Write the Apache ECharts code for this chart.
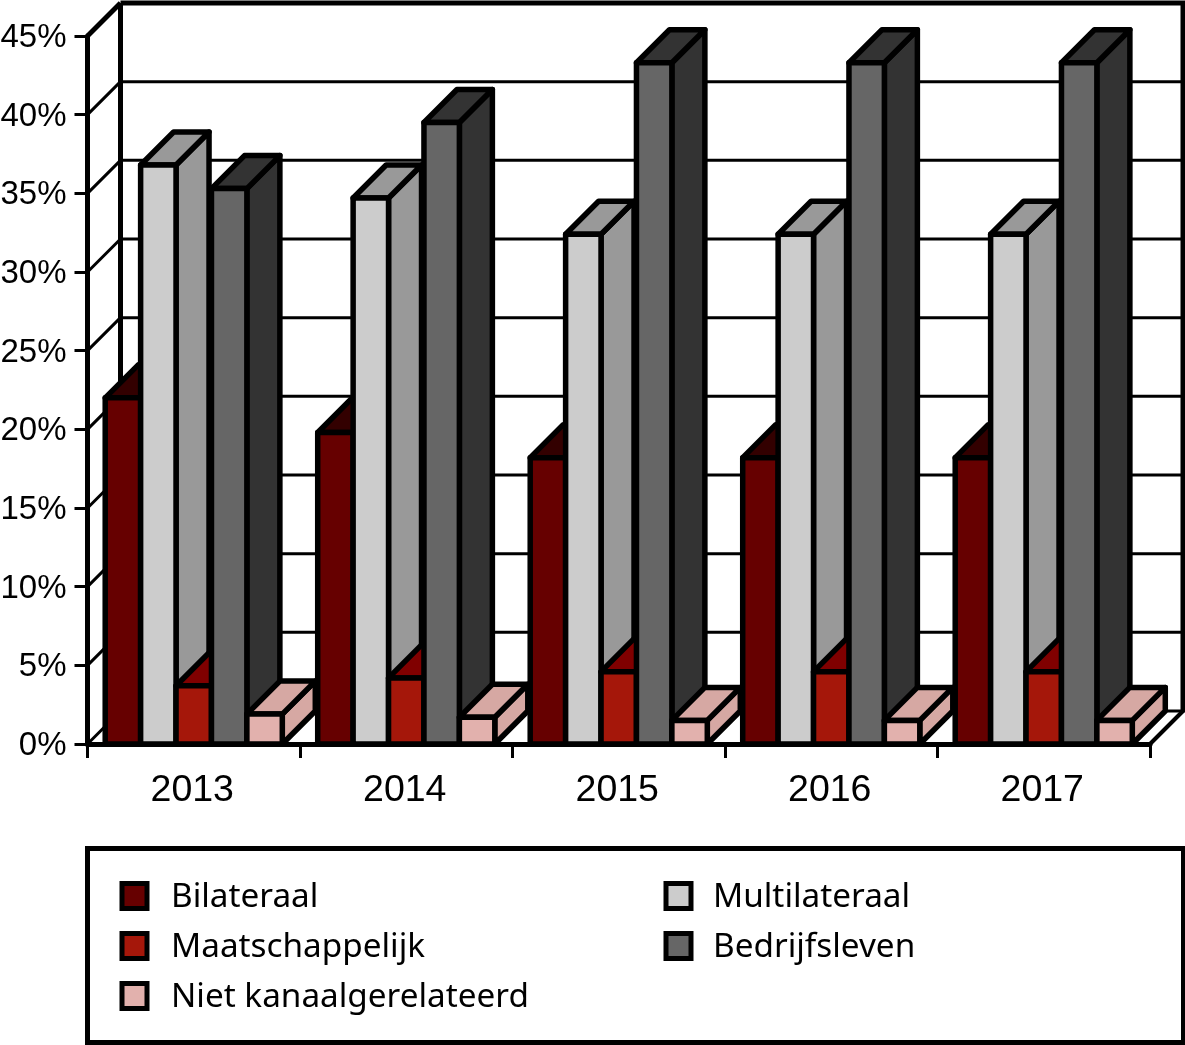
<!DOCTYPE html>
<html><head><meta charset="utf-8">
<style>html,body{margin:0;padding:0;background:#fff}#c{width:1185px;height:1045px}</style>
<script src="https://cdn.jsdelivr.net/npm/echarts@6/dist/echarts.min.js"></script>
</head><body><div id="c"></div>
<script>
const categories = ['2013','2014','2015','2016','2017'];
const yTicks = [0,5,10,15,20,25,30,35,40,45];
const bilateraal = [22.0,19.8,18.2,18.2,18.2];
const multilateraal = [36.8,34.7,32.4,32.4,32.4];
const maatschappelijk = [3.7,4.2,4.6,4.6,4.6];
const bedrijfsleven = [35.3,39.5,43.3,43.3,43.3];
const nietKanaal = [1.9,1.7,1.5,1.5,1.5];

const names = ['Bilateraal','Multilateraal','Maatschappelijk','Bedrijfsleven','Niet kanaalgerelateerd'];
const values = [bilateraal,multilateraal,maatschappelijk,bedrijfsleven,nietKanaal];
const frontColors = ['#660000','#cccccc','#a5170a','#666666','#e2b1ad'];
const sideColors = ['#330000','#999999','#800000','#333333','#d6a8a3'];

const DEPTH = 33, BAR_LW = 5.5, FONT = '"Liberation Sans", Arial, sans-serif', LEGEND_FONT = '"Noto Sans", sans-serif';
const chart = echarts.init(document.getElementById('c'), null, {renderer:'canvas'});

function poly(points, fill){
  return {type:'polygon', shape:{points}, style:{fill, stroke:'#000', lineWidth:BAR_LW, lineJoin:'round'}};
}
function barRender(si){
  return function(params, api){
    const i = api.value(0), v = api.value(1);
    const band = api.size([1,0])[0], w = band/6;
    const c = api.coord([i,0]), top = api.coord([i,v]);
    const x0 = c[0]-band/2 + w/2 + si*w, x1 = x0+w, y0 = c[1], y1 = top[1];
    return {type:'group', children:[
      poly([[x1,y0],[x1+DEPTH,y0-DEPTH],[x1+DEPTH,y1-DEPTH],[x1,y1]], sideColors[si]),
      poly([[x0,y1],[x0+DEPTH,y1-DEPTH],[x1+DEPTH,y1-DEPTH],[x1,y1]], sideColors[si]),
      poly([[x0,y0],[x1,y0],[x1,y1],[x0,y1]], frontColors[si])
    ]};
  };
}
function wallRender(params, api){
  const v = api.value(0);
  const a = api.coord([0,v]), band = api.size([1,0])[0];
  const x0 = a[0]-band/2, y = a[1], xEnd = x0+band*categories.length;
  const heavy = v===45;
  const lw = heavy?5:3;
  const children = [
    {type:'line', shape:{x1:x0,y1:y,x2:x0+DEPTH,y2:y-DEPTH}, style:{stroke:'#000',lineWidth:lw}},
    {type:'line', shape:{x1:x0+DEPTH,y1:y-DEPTH,x2:xEnd+DEPTH+2,y2:y-DEPTH}, style:{stroke:'#000',lineWidth:lw}}
  ];
  if(v===0){
    const yTop = api.coord([0,45])[1]-DEPTH;
    children.push({type:'line', shape:{x1:x0+DEPTH,y1:y-DEPTH,x2:x0+DEPTH,y2:yTop}, style:{stroke:'#000',lineWidth:5}});
    children.push({type:'line', shape:{x1:xEnd+DEPTH,y1:y-DEPTH,x2:xEnd+DEPTH,y2:yTop}, style:{stroke:'#000',lineWidth:5}});
    children.push({type:'line', shape:{x1:xEnd,y1:y,x2:xEnd+DEPTH,y2:y-DEPTH}, style:{stroke:'#000',lineWidth:4}});
  }
  return {type:'group', children};
}

const series = [{
  type:'custom', name:'wall', renderItem:wallRender, coordinateSystem:'cartesian2d',
  data:yTicks.map(t=>[t]), encode:{y:0}, silent:true, clip:false, z:1, animation:false
}].concat(names.map((n,si)=>({
  type:'custom', name:n, renderItem:barRender(si), coordinateSystem:'cartesian2d',
  data:categories.map((c,i)=>[i,values[si][i]]), encode:{x:0,y:1},
  itemStyle:{color:frontColors[si]}, clip:false, z:2, animation:false
})));

function legend(data,left,pad){
  return {data:data.map(name=>({name,icon:'rect'})), orient:'vertical', left, top:881, itemWidth:25, itemHeight:25, itemGap:16.5,
    padding:0, selectedMode:false,
    itemStyle:{borderColor:'#000',borderWidth:5},
    formatter:'{a|{name}}',
    textStyle:{color:'#000',fontFamily:LEGEND_FONT,fontSize:33,rich:{a:{color:'#000',fontFamily:LEGEND_FONT,fontSize:33.3,lineHeight:25,height:25,padding:[4,0,0,pad]}}}};
}
chart.setOption({
  animation:false, backgroundColor:'#fff',
  grid:{left:87.5,right:35,top:36,bottom:301,containLabel:false,outerBoundsMode:'none'},
  xAxis:{type:'category',data:categories,z:5,boundaryGap:true,
    axisLine:{show:true,onZero:false,lineStyle:{color:'#000',width:5}},
    axisTick:{show:true,length:14,alignWithLabel:false,lineStyle:{color:'#000',width:3}},
    axisLabel:{color:'#000',fontFamily:FONT,fontSize:37.5,margin:28,padding:[0,3,0,0]}, splitLine:{show:false}},
  yAxis:{type:'value',min:0,max:45,interval:5,z:5,
    axisLine:{show:true,lineStyle:{color:'#000',width:5}},
    axisTick:{show:true,length:13,lineStyle:{color:'#000',width:3}},
    axisLabel:{color:'#000',fontFamily:FONT,fontSize:33,margin:21,verticalAlign:'top',lineHeight:4,formatter:'{value}%'}, splitLine:{show:false}},
  legend:[legend(['Bilateraal','Maatschappelijk','Niet kanaalgerelateerd'],119.5,19), legend(['Multilateraal','Bedrijfsleven'],663.5,17)],
  graphic:[{type:'rect',left:85,top:846,shape:{x:0,y:0,width:1096,height:194},style:{fill:'none',stroke:'#000',lineWidth:5},silent:true}],
  series
});
</script></body></html>
